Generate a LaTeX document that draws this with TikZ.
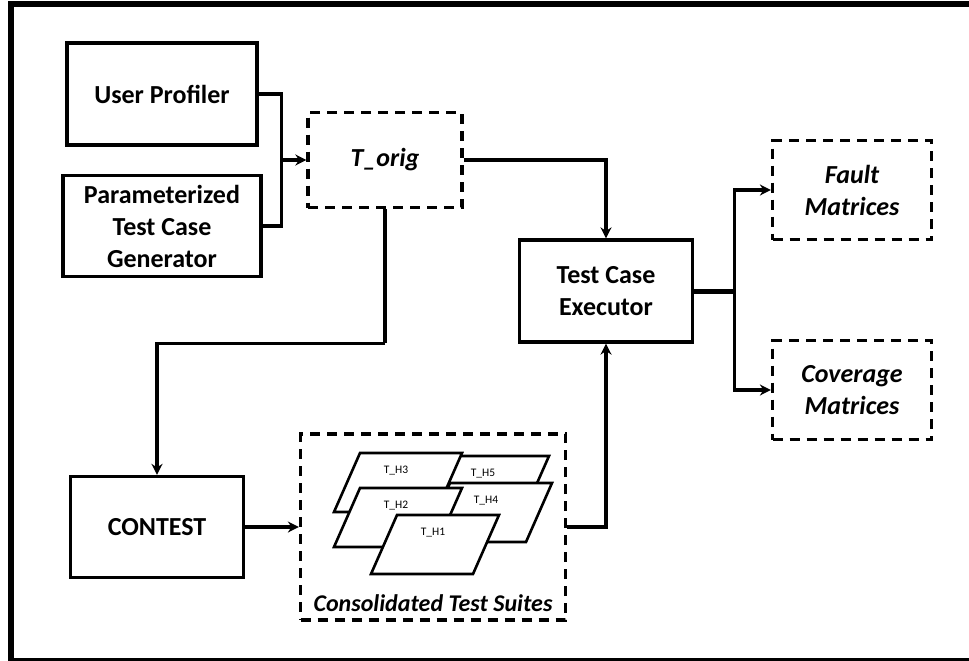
\documentclass[tikz,border=0pt]{standalone}
\usepackage{fontspec}
\setmainfont{Carlito}
\usetikzlibrary{positioning,arrows.meta}

\begin{document}
\begin{tikzpicture}[x=1pt,y=-1pt,->,>={Stealth[length=11pt,width=11pt]},line width=3.2pt,
    main node/.style={draw,rectangle,line width=3.2pt,inner sep=0pt,align=center,font=\fontsize{26}{32}\selectfont\bfseries},
    data node/.style={main node,dash pattern=on 10pt off 7pt,font=\fontsize{26}{32}\selectfont\bfseries\itshape},
    suite label/.style={font=\fontsize{11.5}{13}\selectfont}]
    \useasboundingbox (0,0) rectangle (969,661);
    \draw[-,line width=6pt] (969,4.5) -- (10.5,4.5) -- (10.5,661) -- (969,661);

    \node[main node,minimum width=190pt,minimum height=102pt] (1) at (162,94) {User Profiler};
    \node[main node,minimum width=198pt,minimum height=101pt] (2) [below of=1,node distance=132pt] {Parameterized\\Test Case\\Generator};
    \node[data node,minimum width=154pt,minimum height=95pt] (3) at (385,160) {T\_orig};
    \node[main node,minimum width=173pt,minimum height=101pt] (4) at (157,527) {CONTEST};
    \node[data node,minimum width=265pt,minimum height=186pt] (5) [right of=4,node distance=276pt] {};
    \node[main node,minimum width=173pt,minimum height=102pt] (6) at (606,291) {Test Case\\Executor};
    \node[data node,minimum width=159pt,minimum height=99pt] (7) at (852,190) {Fault\\Matrices};
    \node[data node,minimum width=159pt,minimum height=99pt] (8) [below of=7,node distance=200pt] {Coverage\\Matrices};

    % the merged test suites
    \foreach \x/\y/\t in {447/456/T\_H5, 360/453/T\_H3, 450/483/T\_H4, 360/488/T\_H2, 397/515/T\_H1}
        \draw[-,line width=2.6pt,fill=white] (\x,\y) -- ++(102,0) -- ++(-26,59) -- ++(-102,0) -- cycle
            node[suite label] at (\x+36,\y+18) {\t};
    \node[font=\fontsize{24}{28}\selectfont\bfseries\itshape,inner sep=0pt] (9) [above=8pt of 5.south] {Consolidated Test Suites};

    \coordinate[left=25pt of 3.west] (j1);
    \coordinate[below=134pt of 3.south] (j2);
    \coordinate[right=40pt of 6.east] (j3);

    \draw[-] (1.east) -| (j1);
    \draw[-] (2.east) -| (j1);
    \draw (j1) -- (3.west);
    \draw (3.east) -| (6.north);
    \draw[-] (3.south) -- (j2);
    \draw (j2) -| (4.north);
    \draw (4.east) -- (5.west);
    \draw (5.east) -| (6.south);
    \draw[-,line width=5pt] (6.east) -- (j3);
    \draw (j3) |- (7.west);
    \draw (j3) |- (8.west);
\end{tikzpicture}
\end{document}
